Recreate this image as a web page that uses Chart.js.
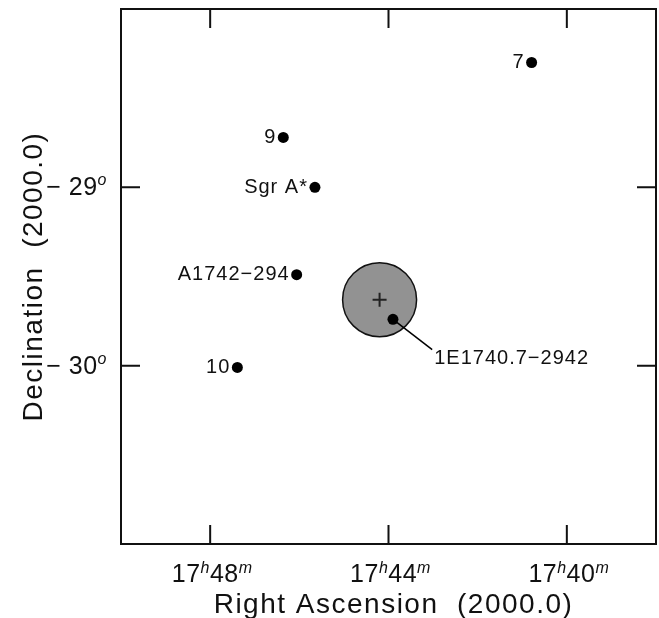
<!DOCTYPE html>
<html>
<head>
<meta charset="utf-8">
<script src="https://cdn.jsdelivr.net/npm/chart.js@4"></script>
<style>
  html, body { margin: 0; padding: 0; background: #fff; }
  #wrap { width: 659px; height: 618px; }
</style>
</head>
<body>
<div id="wrap"><canvas id="chart" width="659" height="618"></canvas></div>
<script>
// sources: RA in minutes past 17h, Dec in degrees
const names = ['7', '9', 'Sgr A*', 'A1742\u2212294', '10', '1E1740.7\u22122942'];
const raMin = [40.79, 46.36, 45.65, 46.06, 47.39, 43.90];
const decDeg = [-28.30, -28.72, -29.00, -29.49, -30.01, -29.74];

// error circle (centre) of the observation
const circleRa = [44.20];
const circleDec = [-29.63];

// leader line from 1E1740.7-2942 out to its label
const leaderRa = [43.90, 43.02];
const leaderDec = [-29.74, -29.91];

// axis ticks
const raTicks = [48, 44, 40];
const decTicks = [-29, -30];

const FONT = '"Liberation Sans", Arial, Helvetica, sans-serif';

function pts(xs, ys) {
  return xs.map((x, i) => ({ x: x, y: ys[i] }));
}

// draw text made of several runs (normal + superscript pieces)
function drawRuns(ctx, runs, x, y, align, spacing) {
  ctx.letterSpacing = spacing + 'px';
  let w = 0;
  runs.forEach(r => { ctx.font = r.font; r.w = ctx.measureText(r.t).width; w += r.w; });
  let cx = align === 'center' ? x - w / 2 : align === 'right' ? x - w : x;
  ctx.textAlign = 'left';
  runs.forEach(r => {
    ctx.font = r.font;
    ctx.fillText(r.t, cx, y + (r.dy || 0));
    cx += r.w;
  });
}

const frame = {
  id: 'frame',
  afterDraw(chart) {
    const ctx = chart.ctx;
    const a = chart.chartArea;
    const xs = chart.scales.x, ys = chart.scales.y;
    const tick = 19;
    ctx.save();
    ctx.strokeStyle = '#111';
    ctx.fillStyle = '#111';
    ctx.lineWidth = 2;
    ctx.strokeRect(a.left, a.top, a.right - a.left, a.bottom - a.top);

    ctx.beginPath();
    raTicks.forEach(v => {
      const px = xs.getPixelForValue(v);
      ctx.moveTo(px, a.bottom); ctx.lineTo(px, a.bottom - tick);
      ctx.moveTo(px, a.top); ctx.lineTo(px, a.top + tick);
    });
    decTicks.forEach(v => {
      const py = ys.getPixelForValue(v);
      ctx.moveTo(a.left, py); ctx.lineTo(a.left + tick, py);
      ctx.moveTo(a.right, py); ctx.lineTo(a.right - tick, py);
    });
    ctx.stroke();

    const big = '25px ' + FONT;
    const sup = 'italic 16px ' + FONT;
    ctx.textBaseline = 'alphabetic';
    raTicks.forEach(v => {
      const px = xs.getPixelForValue(v);
      drawRuns(ctx, [
        { t: '17', font: big },
        { t: 'h', font: sup, dy: -9 },
        { t: String(v), font: big },
        { t: 'm', font: sup, dy: -9 }
      ], px + 2, a.bottom + 38, 'center', 0.5);
    });
    decTicks.forEach(v => {
      const py = ys.getPixelForValue(v);
      drawRuns(ctx, [
        { t: '\u2212 ' + Math.abs(v), font: big },
        { t: 'o', font: sup, dy: -10 }
      ], a.left - 14, py + 8, 'right', 0.5);
    });

    // axis titles
    ctx.font = '28px ' + FONT;
    ctx.letterSpacing = '1.5px';
    ctx.textAlign = 'center';
    ctx.fillText('Right Ascension  (2000.0)', (a.left + a.right) / 2 + 5, a.bottom + 69);
    ctx.save();
    ctx.translate(42, (a.top + a.bottom) / 2);
    ctx.rotate(-Math.PI / 2);
    ctx.fillText('Declination  (2000.0)', 0, 0);
    ctx.restore();

    // source labels
    ctx.font = '20px ' + FONT;
    ctx.letterSpacing = '1px';
    ctx.textBaseline = 'middle';
    names.forEach((n, i) => {
      if (i === names.length - 1) return;
      const px = xs.getPixelForValue(raMin[i]);
      const py = ys.getPixelForValue(decDeg[i]);
      ctx.textAlign = 'right';
      ctx.fillText(n, px - 7, py);
    });
    const last = names.length - 1;
    const lx = xs.getPixelForValue(leaderRa[1]);
    const ly = ys.getPixelForValue(leaderDec[1]);
    ctx.textAlign = 'left';
    ctx.fillText(names[last], lx + 2, ly + 9);
    ctx.restore();
  }
};

new Chart(document.getElementById('chart'), {
  type: 'scatter',
  data: {
    datasets: [
      {
        label: 'Sources',
        data: pts(raMin, decDeg),
        pointRadius: 5.5,
        backgroundColor: '#000',
        borderColor: '#000',
        borderWidth: 0
      },
      {
        label: 'Centre',
        data: pts(circleRa, circleDec),
        pointStyle: 'cross',
        pointRadius: 7,
        borderColor: '#222',
        borderWidth: 2
      },
      {
        label: 'Leader',
        type: 'line',
        data: pts(leaderRa, leaderDec),
        showLine: true,
        pointRadius: 0,
        borderColor: '#000',
        borderWidth: 1.5
      },
      {
        label: 'Error circle',
        data: pts(circleRa, circleDec),
        pointRadius: 37,
        backgroundColor: '#929292',
        borderColor: '#111',
        borderWidth: 1.5
      }
    ]
  },
  options: {
    responsive: false,
    animation: false,
    layout: { autoPadding: false, padding: { left: 121, right: 3, top: 9, bottom: 74 } },
    plugins: { legend: { display: false }, tooltip: { enabled: false } },
    scales: {
      x: { type: 'linear', min: 38, max: 50, reverse: true, display: false },
      y: { type: 'linear', min: -31, max: -28, display: false }
    }
  },
  plugins: [frame]
});
</script>
</body>
</html>
